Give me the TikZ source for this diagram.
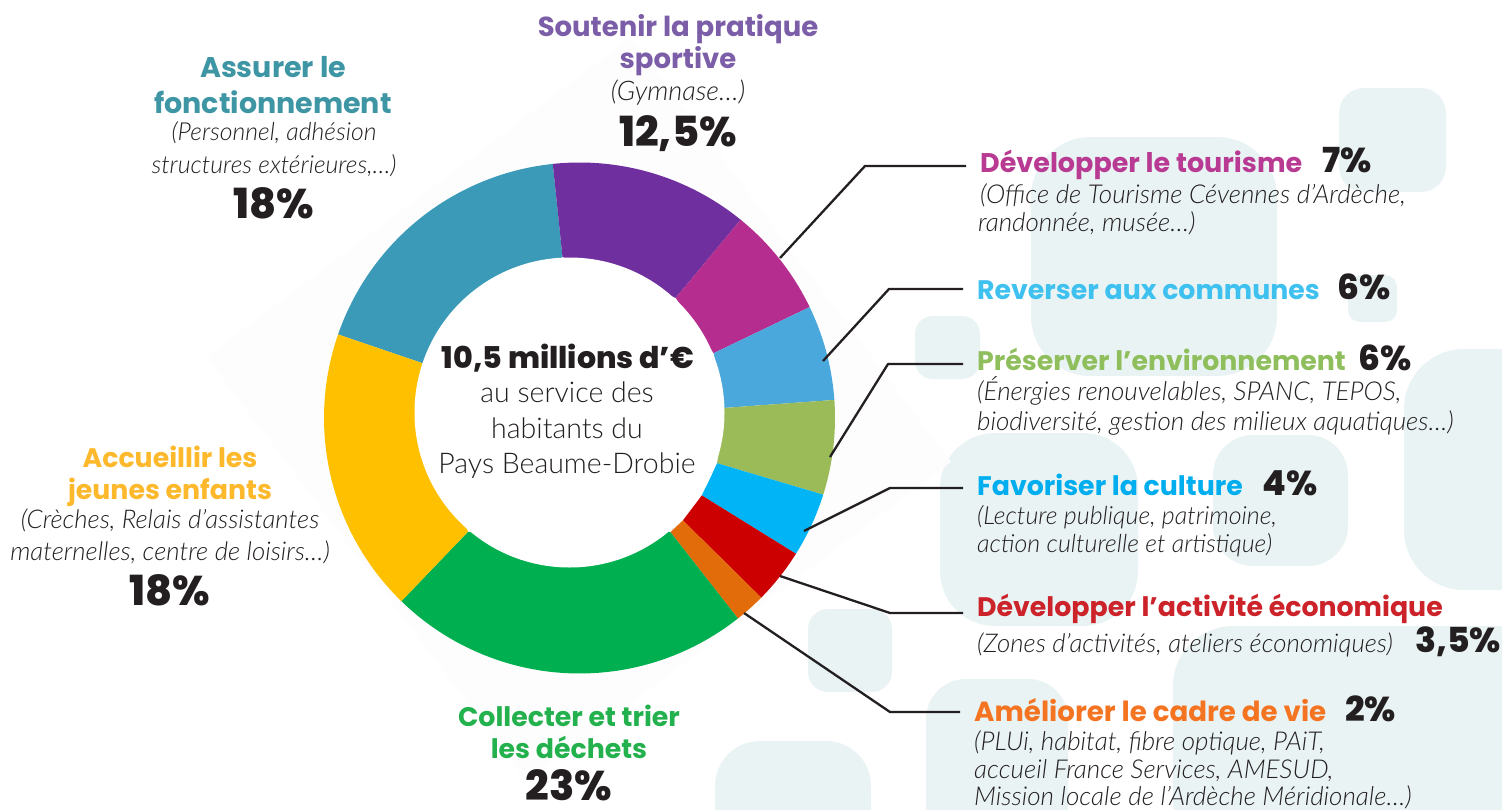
\documentclass[tikz,border=0pt]{standalone}
\usepackage{fontspec}
\setmainfont{Poppins}
\newfontfamily\itfont{Lato}[ItalicFont={Lato Light Italic},UprightFont={Lato Light}]
\newfontfamily\ctfont{Lato Light}
\newfontfamily\pcfont{Poppins ExtraBold}
\usetikzlibrary{calc}
\definecolor{ink}{HTML}{231F20}
\definecolor{pale}{HTML}{E9F3F4}
\definecolor{faint}{HTML}{FDFDFD}
\definecolor{cTeal}{HTML}{3A9AB8}
\definecolor{cViolet}{HTML}{6F2F9F}
\definecolor{cMagenta}{HTML}{B52D8F}
\definecolor{cBlue}{HTML}{4AA8DC}
\definecolor{cOlive}{HTML}{9BBB59}
\definecolor{cCyan}{HTML}{00B4F5}
\definecolor{cRed}{HTML}{CC0000}
\definecolor{cOrange}{HTML}{E36C0A}
\definecolor{cGreen}{HTML}{00AF50}
\definecolor{cYellow}{HTML}{FFC000}
\definecolor{tViolet}{HTML}{7B5EA7}
\definecolor{tTeal}{HTML}{3E96A5}
\definecolor{tYellow}{HTML}{FDB92B}
\definecolor{tGreen}{HTML}{22B14C}
\definecolor{tMagenta}{HTML}{B83A92}
\definecolor{tSky}{HTML}{3FC1F0}
\definecolor{tOlive}{HTML}{8FBE5C}
\definecolor{tCyan}{HTML}{00AEEF}
\definecolor{tRed}{HTML}{CC2229}
\definecolor{tOrange}{HTML}{F47421}
\tikzset{
  x=1pt,y=-1pt,
  tile/.style={fill=pale,draw=none,rounded corners=#1},
  lead/.style={draw=ink,line width=2.3pt,line join=round,shorten >=14pt},
  txt/.style={inner sep=0pt,anchor=base,text=ink},
  txtw/.style={inner sep=0pt,anchor=base west,text=ink},
  hd/.style={font=\bfseries\fontsize{#1}{30}\selectfont},
  hd/.default=26.8,
  pc/.style={font=\pcfont\fontsize{41.5}{44}\selectfont},
  pr/.style={font=\pcfont\fontsize{34.5}{38}\selectfont},
  nt/.style={font=\itfont\itshape\fontsize{#1}{26}\selectfont},
  nt/.default=26,
  ct/.style={font=\ctfont\fontsize{28.5}{30}\selectfont},
}
\newcommand{\slice}[9]{%
  \pgfmathsetmacro{\aa}{atan2(#3-418,#2-579.5)}%
  \pgfmathsetmacro{\bb}{atan2(#7-418,#6-579.5)}%
  \pgfmathsetmacro{\bc}{\bb<\aa?\bb+360:\bb}%
  \fill[#1] plot[domain=\aa:\bc,samples=50] ({579.5+255.5*cos(\x)},{418+255.5*sin(\x)})
    -- (#8,#9) -- (#4,#5) -- cycle;%
}
\begin{document}
\begin{tikzpicture}
\useasboundingbox (0,0) rectangle (1502,809);
\fill[white] (0,0) rectangle (1502,809);
\begin{scope}
\clip (0,0) rectangle (1502,809);
\fill[tile=25] (1339,88) rectangle (1446,192);
\fill[tile=60] (1031,137) rectangle (1277,376);
\fill[tile=12] (1348,275) rectangle (1397,322);
\fill[tile=18] (915,316) rectangle (980,379);
\fill[tile=60] (1404,349) rectangle (1560,590);
\fill[tile=55] (940,433) rectangle (1138,626);
\fill[tile=40] (1213,435) rectangle (1348,566);
\fill[tile=20] (808,609) rectangle (892,692);
\fill[tile=40] (926,679) rectangle (1068,860);
\fill[tile=60] (1173,626) rectangle (1560,860);
\fill[tile=45] (715,741) rectangle (871,860);
\end{scope}
\fill[faint] (631.5,37.5) -- (951,462) -- (526.5,781.5) -- (207,357) -- cycle;
% ring
\slice{cTeal}{338.6}{334.6}{422.5}{363.2}{552.9}{165}{562.5}{257.1}
\slice{cViolet}{552.9}{165}{562.5}{257.1}{739.3}{221.4}{675.7}{297.9}
\slice{cMagenta}{739.3}{221.4}{675.7}{297.9}{807.9}{307.9}{713.6}{353.2}
\slice{cBlue}{807.9}{307.9}{713.6}{353.2}{833.2}{400}{724.3}{407.9}
\slice{cOlive}{833.2}{400}{724.3}{407.9}{822.1}{494.3}{717.1}{463.2}
\slice{cCyan}{822.1}{494.3}{717.1}{463.2}{795.7}{553.6}{701.8}{495.4}
\slice{cRed}{795.7}{553.6}{701.8}{495.4}{760}{596.4}{682.9}{520.4}
\slice{cOrange}{760}{596.4}{682.9}{520.4}{737.5}{617.9}{670.4}{532.1}
\slice{cGreen}{737.5}{617.9}{670.4}{532.1}{401.8}{600.7}{467.9}{531.8}
\slice{cYellow}{401.8}{600.7}{467.9}{531.8}{338.6}{334.6}{422.5}{363.2}
\fill[white] (569.5,412.5) circle[radius=155pt];
% centre
\node[txt,font=\pcfont\fontsize{30}{34}\selectfont] (c1) at (568,368) {10,5 millions d’€};
\node[txt,ct] (c2) at (567,402) {au service des};
\node[txt,ct] (c3) at (567,438) {habitants du};
\node[txt,ct] (c4) at (567,473) {Pays Beaume-Drobie};
% top
\node[txt,hd=27.5,text=tViolet] (s1) at (678,36) {Soutenir la pratique};
\node[txt,hd=27.5,text=tViolet] (s2) at (678,68) {sportive};
\node[txt,nt=27] (s3) at (678,100) {(Gymnase…)};
\node[txt,pc] (s4) at (678,146) {12,5\%};
% left top
\node[txt,hd=28.5,text=tTeal] (a1) at (273,77) {Assurer le};
\node[txt,hd=28.5,text=tTeal] (a2) at (273,113) {fonctionnement};
\node[txt,nt=24.8] (a3) at (274,140) {(Personnel, adhésion};
\node[txt,nt=24.8] (a4) at (274,173) {structures extérieures,…)};
\node[txt,pc] (a5) at (274,218) {18\%};
% left bottom
\node[txt,hd,text=tYellow] (j1) at (170,467) {Accueillir les};
\node[txt,hd,text=tYellow] (j2) at (170,499) {jeunes enfants};
\node[txt,nt=25.8] (j3) at (170,528) {(Crèches, Relais d’assistantes};
\node[txt,nt=25.8] (j4) at (170,560) {maternelles, centre de loisirs…)};
\node[txt,pc] (j5) at (170,605) {18\%};
% bottom
\node[txt,hd,text=tGreen] (d1) at (569,726) {Collecter et trier};
\node[txt,hd,text=tGreen] (d2) at (569,758) {les déchets};
\node[txt,pc] (d3) at (569,800) {23\%};
% right
\node[txtw,hd=27,text=tMagenta] (h1) at (980,172) {Développer le tourisme};
\node[txtw,pr] (p1) at (1322,172) {7\%};
\node[txtw,nt] (n1a) at (980,203) {(Office de Tourisme Cévennes d’Ardèche,};
\node[txtw,nt] (n1b) at (978,231) {randonnée, musée…)};
\node[txtw,hd,text=tSky] (h2) at (977,299) {Reverser aux communes};
\node[txtw,pr] (p2) at (1337,299) {6\%};
\node[txtw,hd,text=tOlive] (h3) at (977,370) {Préserver l’environnement};
\node[txtw,pr] (p3) at (1358,370) {6\%};
\node[txtw,nt] (n3a) at (977,400) {(Énergies renouvelables, SPANC, TEPOS,};
\node[txtw,nt] (n3b) at (977,430) {biodiversité, gestion des milieux aquatiques…)};
\node[txtw,hd,text=tCyan] (h4) at (977,495) {Favoriser la culture};
\node[txtw,pr] (p4) at (1262,495) {4\%};
\node[txtw,nt=25] (n4a) at (977,524) {(Lecture publique, patrimoine,};
\node[txtw,nt=25] (n4b) at (977,552) {action culturelle et artistique)};
\node[txtw,hd,text=tRed] (h5) at (977,616) {Développer l’activité économique};
\node[txtw,nt=25.8] (n5a) at (977,652) {(Zones d’activités, ateliers économiques)};
\node[txtw,pr] (p5) at (1415,652) {3,5\%};
\node[txtw,hd=27.7,text=tOrange] (h6) at (974,721) {Améliorer le cadre de vie};
\node[txtw,pr] (p6) at (1345,721) {2\%};
\node[txtw,nt] (n6a) at (974,750) {(PLUi, habitat, fibre optique, PAiT,};
\node[txtw,nt] (n6b) at (974,778) {accueil France Services, AMESUD,};
\node[txtw,nt] (n6c) at (974,805) {Mission locale de l’Ardèche Méridionale…)};
% leaders
\coordinate (t1) at (780,258); \coordinate (b1) at (865,166);
\coordinate (t2) at (823,361); \coordinate (b2) at (889,289);
\coordinate (t3) at (830,457); \coordinate (b3) at (888,364);
\coordinate (t4) at (804,531); \coordinate (b4) at (890,488);
\coordinate (t5) at (780,576); \coordinate (b5) at (890,613);
\coordinate (t6) at (744,613); \coordinate (b6) at (890,712);
\draw[lead] (t1) -- (b1) -- (b1 -| h1.west);
\draw[lead] (t2) -- (b2) -- (b2 -| h2.west);
\draw[lead] (t3) -- (b3) -- (b3 -| h3.west);
\draw[lead] (t4) -- (b4) -- (b4 -| h4.west);
\draw[lead] (t5) -- (b5) -- (b5 -| h5.west);
\draw[lead] (t6) -- (b6) -- (b6 -| h6.west);
\end{tikzpicture}
\end{document}
